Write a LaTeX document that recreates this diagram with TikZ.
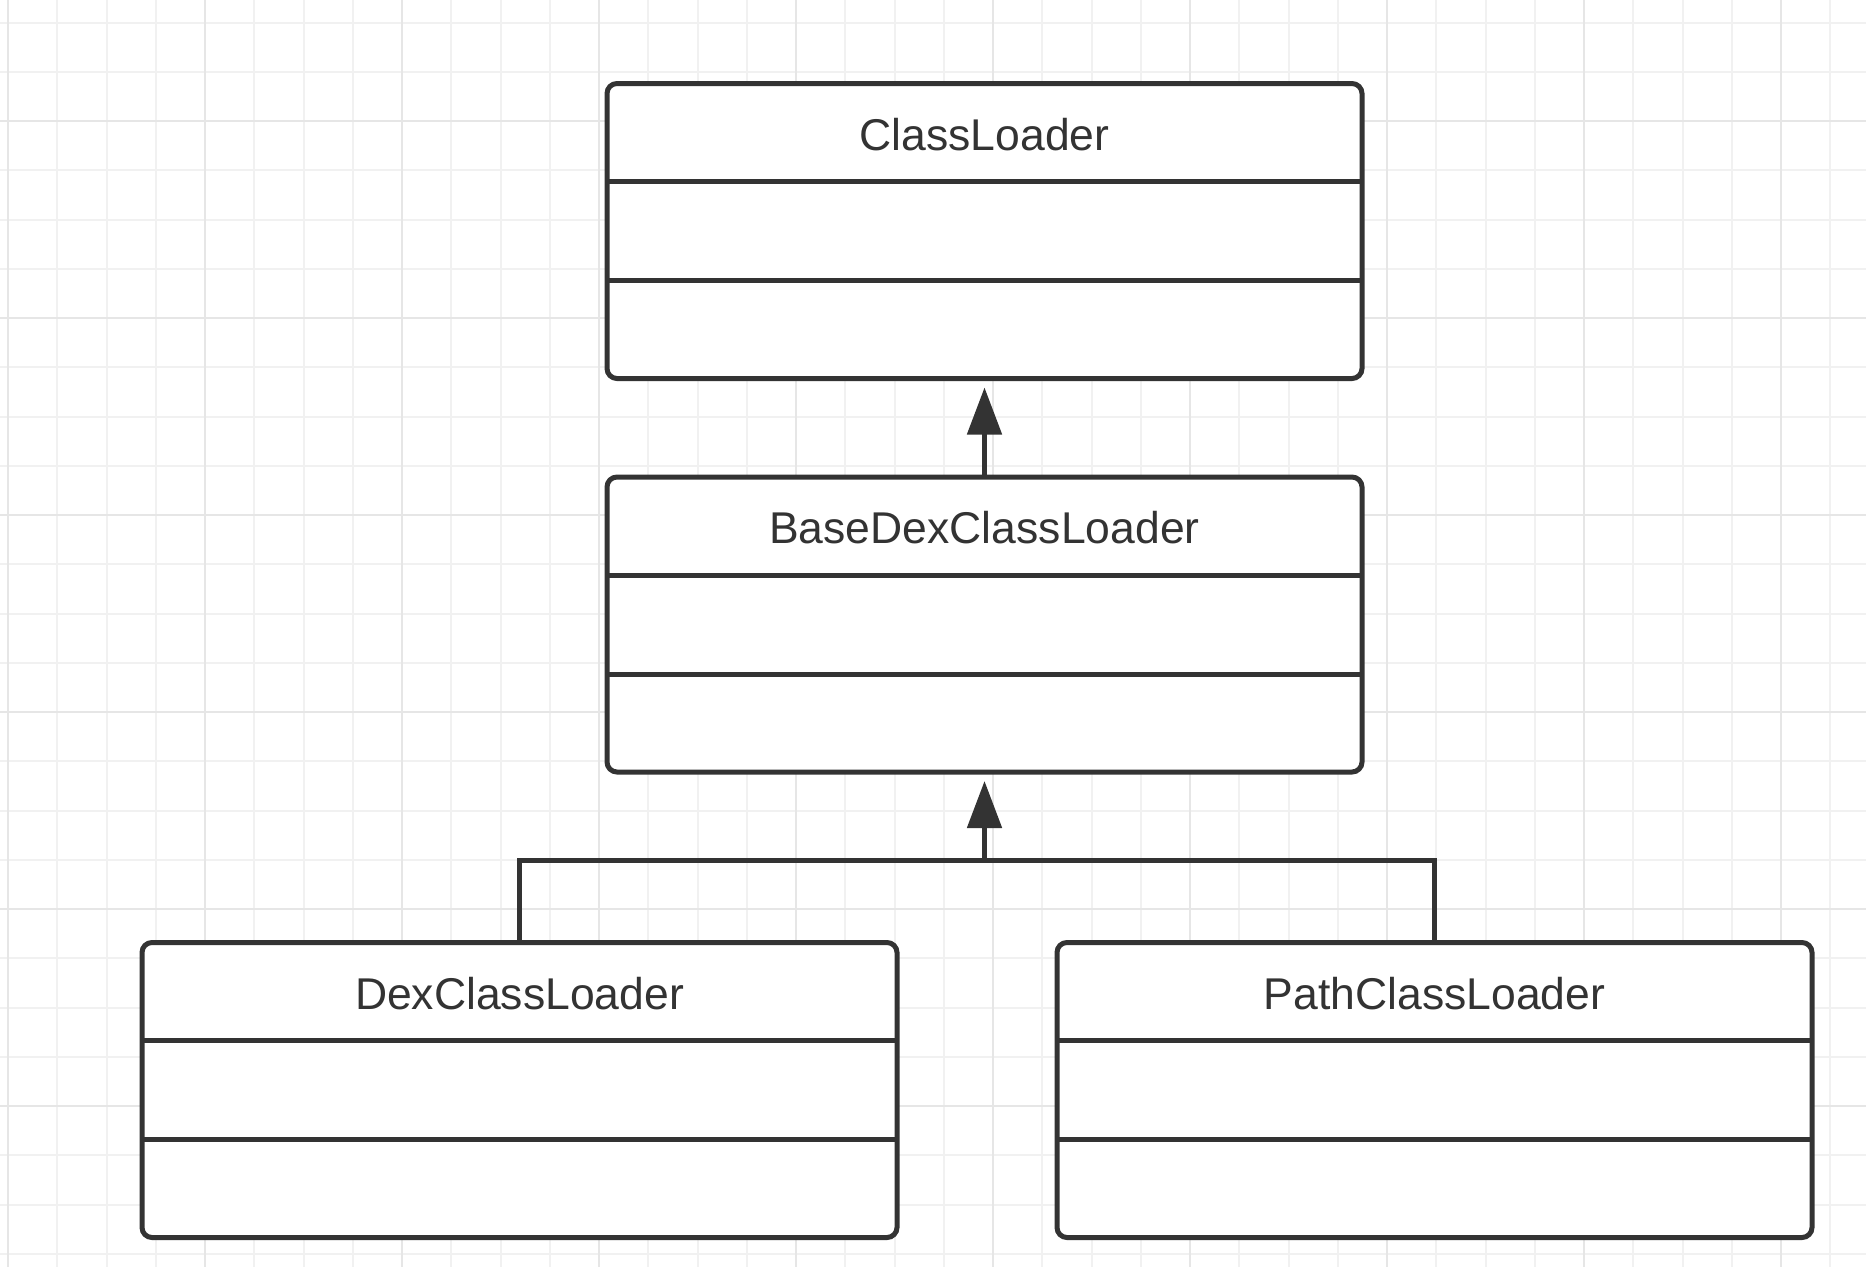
\documentclass[tikz,border=0pt]{standalone}
\usepackage{fontspec}
\setmainfont{Liberation Sans}
\usetikzlibrary{arrows.meta}
\definecolor{ink}{HTML}{333333}
\definecolor{gridminor}{HTML}{F1F1F1}
\definecolor{gridmajor}{HTML}{E6E6E6}
\tikzset{
  umlbox/.style={draw=ink, line width=5pt, fill=white, rounded corners=10pt,
    minimum width=755pt, minimum height=295pt, inner sep=0pt, outer sep=0pt},
  umltitle/.style={font=\fontsize{44.5pt}{52pt}\selectfont, text=ink, inner sep=0pt},
  divider/.style={draw=ink, line width=5pt},
  conn/.style={draw=ink, line width=5pt},
  inherit/.style={draw=ink, line width=5pt,
    -{Triangle[length=47pt, width=34pt, fill=ink]}, shorten >=9pt},
  gminor/.style={draw=gridminor, line width=2pt},
  gmajor/.style={draw=gridmajor, line width=2.6pt},
}
\newcommand{\umlclass}[3]{%
  \node[umlbox] (#1) at (#2) {};
  \node[umltitle] (#1t) at ([yshift=-51pt]#1.north) {#3};
  \draw[divider] ([yshift=-98pt]#1.north west) -- ([yshift=-98pt]#1.north east);
  \draw[divider] ([yshift=-197pt]#1.north west) -- ([yshift=-197pt]#1.north east);
}
\begin{document}
\begin{tikzpicture}[x=1pt, y=-1pt]
  \useasboundingbox (0,0) rectangle (1866,1267);
  \fill[white] (0,0) rectangle (1866,1267);
  % grid
  \foreach \i in {0,...,37} { \draw[gminor] (8+\i*49.25,0) -- (8+\i*49.25,1267); }
  \foreach \i in {0,...,25} { \draw[gminor] (0,22.5+\i*49.25) -- (1866,22.5+\i*49.25); }
  \foreach \i in {0,...,9} { \draw[gmajor] (8+\i*197,0) -- (8+\i*197,1267); }
  \foreach \i in {0,...,5} { \draw[gmajor] (0,121+\i*197) -- (1866,121+\i*197); }
  % classes
  \umlclass{cl}{984.5,231}{ClassLoader}
  \umlclass{bd}{984.5,624.5}{BaseDexClassLoader}
  \umlclass{dx}{519.5,1090}{DexClassLoader}
  \umlclass{pc}{1434.5,1090}{PathClassLoader}
  % connectors
  \coordinate (j) at (984.5,860);
  \draw[inherit] (bd.north) -- (cl.south);
  \draw[inherit] (j) -- (bd.south);
  \draw[conn] (dx.north) |- (j) -| (pc.north);
\end{tikzpicture}
\end{document}
